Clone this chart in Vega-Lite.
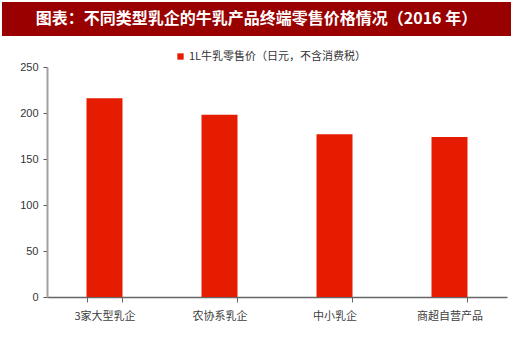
{
  "$schema": "https://vega.github.io/schema/vega-lite/v6.json",
  "background": "white",
  "padding": {"left": 2, "top": 2, "right": 0, "bottom": 0},
  "spacing": 15,
  "resolve": {"legend": {"color": "independent"}},
  "config": {
    "font": "Noto Sans CJK SC",
    "view": {"stroke": null}
  },
  "vconcat": [
    {
      "width": 509,
      "height": 34,
      "view": {"fill": "#990000", "stroke": null},
      "data": {"values": [{"t": "图表：不同类型乳企的牛乳产品终端零售价格情况（2016 年）"}]},
      "mark": {"type": "text", "color": "white", "fontSize": 16, "fontWeight": "bold", "font": "Noto Sans CJK SC", "baseline": "middle", "align": "center"},
      "encoding": {"text": {"field": "t"}}
    },
    {
      "width": 505,
      "height": 230,
      "data": {
        "values": [
          {"category": "3家大型乳企", "price": 216, "series": "1L牛乳零售价（日元，不含消费税）"},
          {"category": "农协系乳企", "price": 198, "series": "1L牛乳零售价（日元，不含消费税）"},
          {"category": "中小乳企", "price": 177, "series": "1L牛乳零售价（日元，不含消费税）"},
          {"category": "商超自营产品", "price": 174, "series": "1L牛乳零售价（日元，不含消费税）"}
        ]
      },
      "mark": {"type": "bar", "color": "#E51C00"},
      "encoding": {
        "x": {
          "field": "category",
          "type": "nominal",
          "sort": null,
          "scale": {"range": [45, 505], "paddingInner": 0.687, "paddingOuter": 0.3435},
          "axis": {
            "title": null,
            "labelAngle": 0,
            "labelFontSize": 11,
            "labelColor": "#404040",
            "labelPadding": 8,
            "tickBand": "extent",
            "tickSize": 5,
            "tickColor": "#666666",
            "domainColor": "#666666",
            "domainWidth": 1.5,
            "grid": false
          }
        },
        "y": {
          "field": "price",
          "type": "quantitative",
          "scale": {"domain": [0, 250]},
          "axis": {
            "title": null,
            "offset": -45,
            "values": [0, 50, 100, 150, 200, 250],
            "labelFontSize": 11,
            "labelFont": "Liberation Sans",
            "labelColor": "#333333",
            "labelPadding": 5,
            "tickSize": 4,
            "tickColor": "#555555",
            "domainColor": "#a0a0a0",
            "domainWidth": 2,
            "grid": false
          }
        },
        "color": {
          "field": "series",
          "type": "nominal",
          "scale": {"range": ["#E51C00"]},
          "legend": {
            "title": null,
            "orient": "none",
            "legendX": 173,
            "legendY": -16,
            "symbolType": "square",
            "symbolSize": 40,
            "labelFontSize": 11,
            "labelColor": "#333333",
            "labelOffset": 3,
            "labelLimit": 400
          }
        }
      }
    }
  ]
}
